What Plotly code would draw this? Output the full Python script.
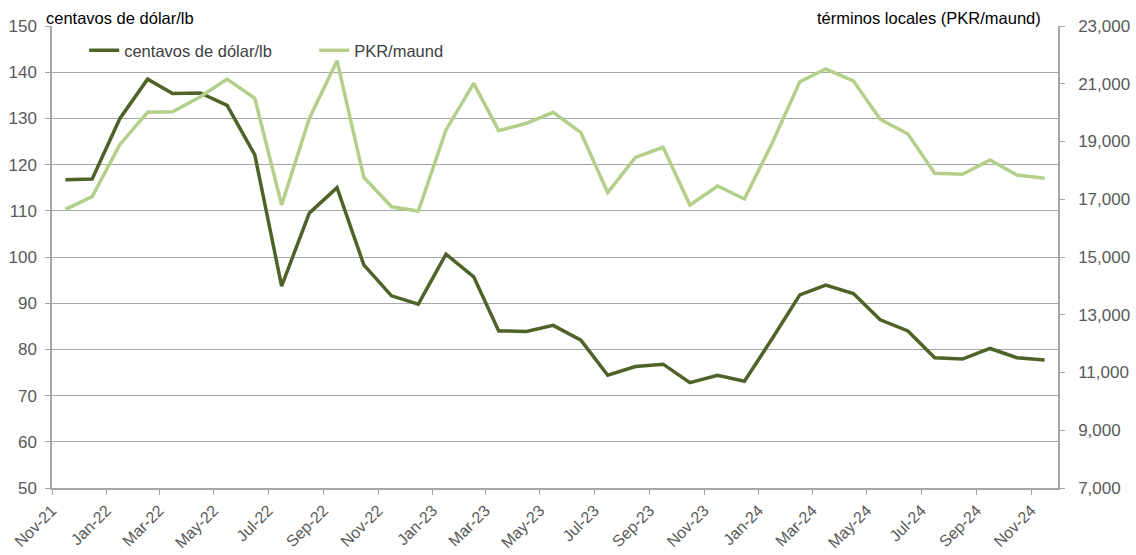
import plotly.graph_objects as go
import pandas as pd

months = ["Nov-21","Dec-21","Jan-22","Feb-22","Mar-22","Apr-22","May-22","Jun-22","Jul-22","Aug-22","Sep-22","Oct-22",
          "Nov-22","Dec-22","Jan-23","Feb-23","Mar-23","Apr-23","May-23","Jun-23","Jul-23","Aug-23","Sep-23","Oct-23",
          "Nov-23","Dec-23","Jan-24","Feb-24","Mar-24","Apr-24","May-24","Jun-24","Jul-24","Aug-24","Sep-24","Oct-24","Nov-24"]

usc_lb = [116.7, 116.9, 130.0, 138.5, 135.4, 135.5, 132.8, 122.1, 93.7, 109.5, 115.0, 98.3,
          91.6, 89.8, 100.6, 95.7, 84.0, 83.9, 85.2, 82.0, 74.4, 76.3, 76.8, 72.8,
          74.4, 73.1, 82.3, 91.8, 93.9, 92.1, 86.4, 84.0, 78.2, 77.9, 80.2, 78.2, 77.7]

pkr_maund = [16650, 17090, 18900, 20010, 20030, 20550, 21165, 20500, 16800, 19800, 21800, 17760,
             16740, 16590, 19400, 21015, 19375, 19630, 20010, 19305, 17230, 18450, 18800, 16800,
             17460, 17010, 18940, 21070, 21510, 21095, 19770, 19260, 17900, 17865, 18360, 17840, 17725]

# position each monthly value in the middle of its month (Excel "between tick marks")
x_dates = pd.to_datetime(months, format="%b-%y") + pd.Timedelta(days=15)

DARK = "#4F6228"
LIGHT = "#B3CF8A"
FONT = "Liberation Sans, Arial, sans-serif"
AXC = "#A6A6A6"

fig = go.Figure()
fig.add_trace(go.Scatter(x=x_dates, y=usc_lb, name="centavos de dólar/lb", mode="lines",
                         line=dict(color=DARK, width=3.5), yaxis="y"))
fig.add_trace(go.Scatter(x=x_dates, y=pkr_maund, name="PKR/maund", mode="lines",
                         line=dict(color=LIGHT, width=3.5), yaxis="y2"))

fig.update_layout(
    width=1136, height=555,
    margin=dict(l=52, r=78, t=26, b=67, autoexpand=False),
    paper_bgcolor="white", plot_bgcolor="white",
    font=dict(family=FONT, size=16, color="#595959"),
    showlegend=True,
    legend=dict(orientation="h", x=0.032, y=0.985, xanchor="left", yanchor="top",
                font=dict(size=16.5, color="#404040"), bgcolor="rgba(0,0,0,0)",
                itemwidth=30, entrywidth=185, tracegroupgap=0),
    xaxis=dict(type="date", range=["2021-11-01", "2024-12-01"], automargin=False,
               tick0="2021-11-01", dtick="M2", tickformat="%b-%y", tickangle=-45,
               ticks="outside", ticklen=5, tickcolor=AXC,
               showline=True, linecolor=AXC, linewidth=1.5,
               showgrid=False, zeroline=False,
               tickfont=dict(size=16, color="#595959")),
    yaxis=dict(range=[50, 150], dtick=10, ticks="outside", ticklen=5, tickcolor=AXC,
               automargin=False, ticklabelstandoff=5,
               showline=True, linecolor=AXC, linewidth=1.5,
               showgrid=True, gridcolor=AXC, gridwidth=1.2, zeroline=False,
               tickfont=dict(size=17, color="#595959")),
    yaxis2=dict(range=[7000, 23000], tick0=7000, dtick=2000, overlaying="y", side="right",
                automargin=False, ticklabelstandoff=10,
                ticks="outside", ticklen=5, tickcolor=AXC, tickformat=",",
                showline=True, linecolor=AXC, linewidth=1.5,
                showgrid=False, zeroline=False,
                tickfont=dict(size=17, color="#595959")),
    annotations=[
        dict(text="centavos de dólar/lb", xref="paper", yref="paper", x=-0.008, y=1.0,
             xanchor="left", yanchor="bottom", showarrow=False, yshift=-3,
             font=dict(size=16.5, color="#000000")),
        dict(text="términos locales (PKR/maund)", xref="paper", yref="paper", x=0.985, y=1.0,
             xanchor="right", yanchor="bottom", showarrow=False, yshift=-3,
             font=dict(size=16.5, color="#000000")),
    ],
)

fig.write_html("out.html", config={"displayModeBar": False},
               post_script="document.body.style.margin='0px';")
